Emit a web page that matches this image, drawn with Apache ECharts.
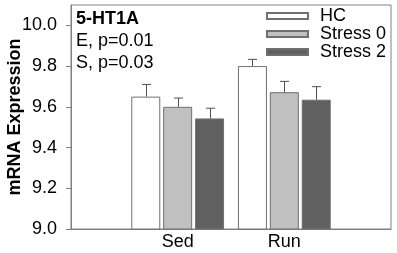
<!DOCTYPE html>
<html>
<head>
    <meta charset="utf-8">
    <script type="text/javascript" src="https://cdn.jsdelivr.net/npm/echarts@6/dist/echarts.min.js"></script>
    <title>5-HT1A</title>
    <style>
        body { margin: 0; background: #fff; }
    </style>
</head>
<body>
    <div id="container" style="width:397px;height:253px;"></div>
    <script type="text/javascript">
    // groups on the x axis and the three conditions
    var groups = ['Sed', 'Run'];
    var seriesNames = ['HC', 'Stress 0', 'Stress 2'];

    // bar heights (mean) and the top of each error bar
    var hcMean = [9.65, 9.80];
    var hcTop = [9.71, 9.833];
    var stress0Mean = [9.60, 9.672];
    var stress0Top = [9.643, 9.725];
    var stress2Mean = [9.543, 9.635];
    var stress2Top = [9.593, 9.699];

    // y axis ticks
    var yTicks = [9.0, 9.2, 9.4, 9.6, 9.8, 10.0];

    // empty slots on both sides so the groups sit at 1/3 and 2/3
    var categories = [''].concat(groups, [' ']);
    var means = [hcMean, stress0Mean, stress2Mean];
    var tops = [hcTop, stress0Top, stress2Top];
    var fills = ['#ffffff', '#c0c0c0', '#606060'];

    var FONT = 'Liberation Sans';
    var BAR_W = 29;
    var BAR_STEP = 32; // bar width + gap

    function pad(arr) {
        return ['-'].concat(arr, ['-']);
    }

    var series = [];
    seriesNames.forEach(function (name, i) {
        series.push({
            name: name,
            type: 'bar',
            data: pad(means[i]),
            barWidth: BAR_W,
            barGap: '10%',
            itemStyle: { color: fills[i], borderColor: '#707070', borderWidth: 1 },
            z: 2
        });
    });

    // error bars (upper only) drawn with a custom series
    seriesNames.forEach(function (name, i) {
        var data = groups.map(function (g, k) {
            return [k + 1, means[i][k], tops[i][k]];
        });
        var offset = (i - 1) * BAR_STEP;
        series.push({
            type: 'custom',
            data: data,
            z: 3,
            silent: true,
            renderItem: function (params, api) {
                var base = api.coord([api.value(0), api.value(1)]);
                var top = api.coord([api.value(0), api.value(2)]);
                var x = Math.round(base[0] + offset) + 0.5;
                var style = { stroke: '#505050', lineWidth: 1 };
                return {
                    type: 'group',
                    children: [
                        { type: 'line', shape: { x1: x, y1: base[1], x2: x, y2: top[1] }, style: style },
                        { type: 'line', shape: { x1: x - 4.5, y1: top[1], x2: x + 4.5, y2: top[1] }, style: style }
                    ]
                };
            }
        });
    });

    var myChart = echarts.init(document.getElementById('container'));

    var option = {
        animation: false,
        grid: {
            left: 71, right: 6, top: 5, bottom: 24,
            containLabel: false,
            outerBoundsMode: 'none',
            show: true,
            borderColor: '#808080',
            borderWidth: 1
        },
        legend: {
            data: seriesNames,
            orient: 'vertical',
            left: 266,
            top: 7,
            padding: 0,
            // 41px box plus 7px of empty room before the text
            icon: 'path://M0,0H41V6H0ZM48,0',
            itemWidth: 48,
            itemHeight: 6,
            itemGap: 0,
            selectedMode: false,
            textStyle: { fontFamily: FONT, fontSize: 18, lineHeight: 16, color: '#000' }
        },
        graphic: [
            { type: 'text', left: 76, top: 10, style: { text: '5-HT1A', font: 'bold 18px ' + FONT, fill: '#000' } },
            { type: 'text', left: 76, top: 32, style: { text: 'E, p=0.01', font: '18px ' + FONT, fill: '#000' } },
            { type: 'text', left: 76, top: 54, style: { text: 'S, p=0.03', font: '18px ' + FONT, fill: '#000' } }
        ],
        xAxis: {
            type: 'category',
            data: categories,
            boundaryGap: false,
            axisLine: { lineStyle: { color: '#808080' } },
            axisTick: { show: false },
            axisLabel: { interval: 0, margin: 4, fontFamily: FONT, fontSize: 18, color: '#000' },
            splitLine: { show: false }
        },
        yAxis: {
            type: 'value',
            min: 9.0,
            max: 10.1,
            name: 'mRNA Expression',
            nameLocation: 'middle',
            nameRotate: 90,
            nameGap: 47,
            nameMoveOverlap: false,
            nameTextStyle: { fontFamily: FONT, fontSize: 18, fontWeight: 'bold', color: '#000' },
            axisLine: { show: true, lineStyle: { color: '#808080' } },
            axisTick: { show: true, length: 5, customValues: yTicks, lineStyle: { color: '#808080' } },
            axisLabel: {
                customValues: yTicks,
                margin: 14,
                fontFamily: FONT, fontSize: 18, color: '#000',
                formatter: function (v) { return v.toFixed(1); }
            },
            splitLine: { show: false }
        },
        series: series
    };

    myChart.setOption(option);
    </script>
</body>
</html>
